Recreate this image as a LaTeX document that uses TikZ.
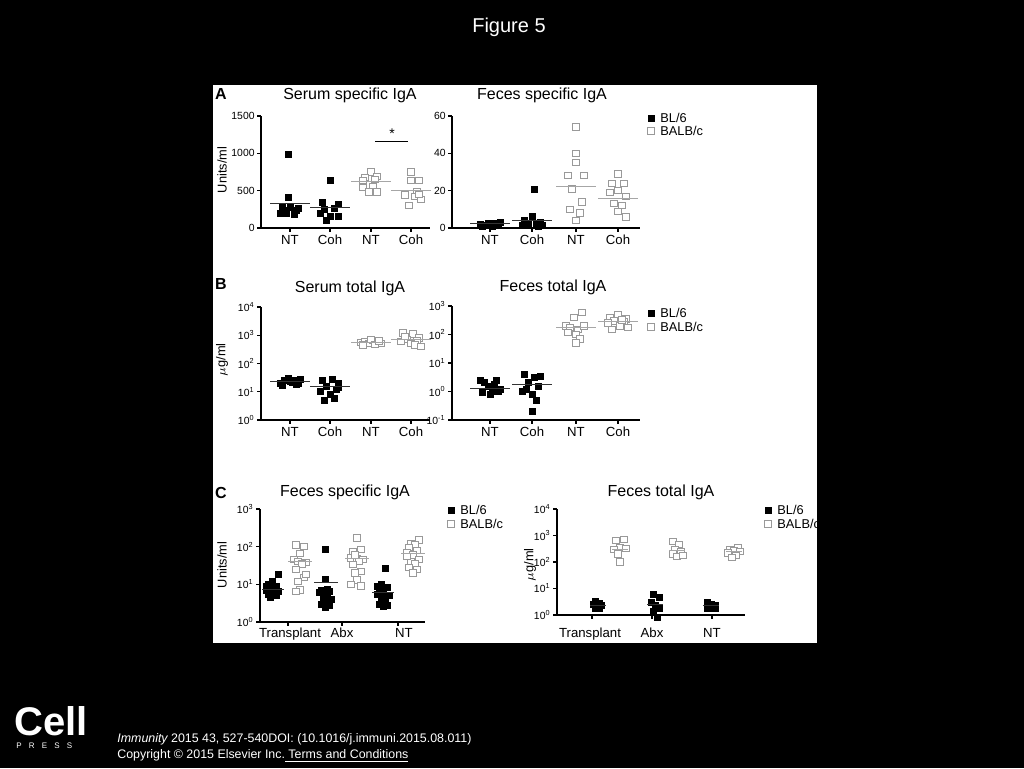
\documentclass[tikz,border=0pt]{standalone}
\usepackage{fontspec}
\setmainfont{Liberation Sans}
\begin{document}
\begin{tikzpicture}[x=0.5pt,y=-0.5pt,
 ax/.style={line width=0.6pt,black},
 bsq/.style={fill=black,draw=none,minimum size=3.5pt,inner sep=0pt},
 wsq/.style={draw=gray!80,fill=white,line width=0.5pt,minimum size=3.2pt,inner sep=0pt},
 bm/.style={line width=0.5pt,black!80},
 wm/.style={line width=0.5pt,gray!70},
 tl/.style={font=\fontsize{5.2}{6}\selectfont,anchor=east,inner sep=0pt},
 cl/.style={font=\fontsize{6.6}{7}\selectfont,anchor=north,inner sep=0pt},
 tt/.style={font=\fontsize{8}{9}\selectfont,inner sep=0pt},
 pl/.style={font=\fontsize{8}{9}\selectfont\bfseries,inner sep=0pt},
 lg/.style={font=\fontsize{6.4}{7}\selectfont,anchor=west,inner sep=0pt}]
\fill[black] (0,0) rectangle (1024,768);
\useasboundingbox (0,0) rectangle (1024,768);
\fill[white] (213,85) rectangle (817,643);
\node[white,font=\fontsize{10}{12}\selectfont] at (509,27) {Figure 5};
% ---------- Panel A ----------
\node[pl] at (221,94) {A};
\node[tt] at (350,95) {Serum specific IgA};
\node[tt] at (542,95) {Feces specific IgA};
\draw[ax] (261,116) -- (261,228) -- (430,228);
\foreach \v/\t in {0/0,500/500,1000/1000,1500/1500}{\draw[ax] (257,{228-\v*0.07467}) -- (261,{228-\v*0.07467}); \node[tl] at (255,{228-\v*0.07467}) {\t};}
\foreach \x/\t in {290/NT,330/Coh,371/NT,411/Coh}{\draw[ax] (\x,228)--(\x,232); \node[cl] at (\x,235) {\t};}
\node[rotate=90,font=\fontsize{6.4}{7}\selectfont] at (222,170) {Units/ml};
\draw[line width=0.5pt] (375,141) -- (408,141);
\node[font=\fontsize{7}{7}\selectfont] at (392,134) {*};
\foreach \d/\v in {-2/990,-2/410,-8/280,0/270,8/260,-10/200,-4/190,4/180,6/230,-6/230} \node[bsq] at ({290+\d},{228-\v*0.07467}) {};
\draw[bm] (270,{228-330*0.07467}) -- (310,{228-330*0.07467});
\foreach \d/\v in {0/640,-8/340,8/310,4/260,-6/250,-10/200,8/150,0/160,-4/100} \node[bsq] at ({330+\d},{228-\v*0.07467}) {};
\draw[bm] (310,{228-270*0.07467}) -- (350,{228-270*0.07467});
\foreach \d/\v in {0/750,-6/680,6/690,-8/640,4/650,-8/540,2/550,6/480,-2/480} \node[wsq] at ({371+\d},{228-\v*0.07467}) {};
\draw[wm] (351,{228-620*0.07467}) -- (391,{228-620*0.07467});
\foreach \d/\v in {0/750,8/640,0/640,6/490,-6/440,4/420,10/380,-2/300,8/450} \node[wsq] at ({411+\d},{228-\v*0.07467}) {};
\draw[wm] (391,{228-500*0.07467}) -- (431,{228-500*0.07467});
% feces specific
\draw[ax] (452,116) -- (452,228) -- (640,228);
\foreach \v in {0,20,40,60}{\draw[ax] (448,{228-\v*1.867}) -- (452,{228-\v*1.867}); \node[tl] at (446,{228-\v*1.867}) {\v};}
\foreach \x/\t in {490/NT,532/Coh,576/NT,618/Coh}{\draw[ax] (\x,228)--(\x,232); \node[cl] at (\x,235) {\t};}
\foreach \d/\v in {-10/2,-6/1.5,-2/2.5,2/1,6/2,10/3,-8/1,0/1.8,4/2.2,8/1.2} \node[bsq] at ({490+\d},{228-\v*1.867}) {};
\draw[bm] (470,{228-2.3*1.867}) -- (510,{228-2.3*1.867});
\foreach \d/\v in {2/20.5,0/6,-8/4,8/3,-4/2,4/2,10/1.5,-10/1.5,6/1} \node[bsq] at ({532+\d},{228-\v*1.867}) {};
\draw[bm] (512,{228-4*1.867}) -- (552,{228-4*1.867});
\foreach \d/\v in {0/54,0/40,0/35,-8/28,8/28,-4/21,6/14,-6/10,4/8,0/4} \node[wsq] at ({576+\d},{228-\v*1.867}) {};
\draw[wm] (556,{228-22*1.867}) -- (596,{228-22*1.867});
\foreach \d/\v in {0/29,-6/24,6/24,0/20,-8/19,8/17,-4/13,4/12,0/9,8/6} \node[wsq] at ({618+\d},{228-\v*1.867}) {};
\draw[wm] (598,{228-16*1.867}) -- (638,{228-16*1.867});
\node[bsq] at (651,118) {}; \node[lg] at (660,118) {BL/6};
\node[wsq] at (651,131) {}; \node[lg] at (660,131) {BALB/c};
% ---------- Panel B ----------
\node[pl] at (221,284) {B};
\node[tt] at (350,288) {Serum total IgA};
\node[tt] at (553,287) {Feces total IgA};
\draw[ax] (261,307) -- (261,420) -- (430,420);
\foreach \e in {0,...,4}{\draw[ax] (257,{420-28.25*\e}) -- (261,{420-28.25*\e}); \node[tl] at (255,{420-28.25*\e}) {10\textsuperscript{\e}};}
\foreach \x/\t in {290/NT,330/Coh,371/NT,411/Coh}{\draw[ax] (\x,420)--(\x,424); \node[cl] at (\x,427) {\t};}
\node[rotate=90,font=\fontsize{6.4}{7}\selectfont] at (222,360) {$\mu$g/ml};
\foreach \d/\v in {-10/20,-6/25,-2/30,2/22,6/18,10/28,-8/17,0/24,4/26,8/20} \node[bsq] at ({290+\d},{420-28.25*log10(\v)}) {};
\draw[bm] (270,{420-28.25*log10(23)}) -- (310,{420-28.25*log10(23)});
\foreach \d/\v in {-8/25,2/28,8/20,-4/15,6/12,-10/10,0/8,4/6,-6/5,8/14} \node[bsq] at ({330+\d},{420-28.25*log10(\v)}) {};
\draw[bm] (310,{420-28.25*log10(15)}) -- (350,{420-28.25*log10(15)});
\foreach \d/\v in {-10/550,-6/600,-2/500,2/650,6/580,10/520,-8/450,0/700,4/480,8/620} \node[wsq] at ({371+\d},{420-28.25*log10(\v)}) {};
\draw[wm] (351,{420-28.25*log10(560)}) -- (391,{420-28.25*log10(560)});
\foreach \d/\v in {-8/1200,2/1100,8/800,-4/700,6/650,-10/600,0/500,4/450,-6/900,10/400} \node[wsq] at ({411+\d},{420-28.25*log10(\v)}) {};
\draw[wm] (391,{420-28.25*log10(700)}) -- (431,{420-28.25*log10(700)});
\draw[ax] (452,306) -- (452,420) -- (640,420);
\foreach \e/\t in {0/-1,1/0,2/1,3/2,4/3}{\draw[ax] (448,{420-28.5*\e}) -- (452,{420-28.5*\e}); \node[tl] at (446,{420-28.5*\e}) {10\textsuperscript{\t}};}
\foreach \x/\t in {490/NT,532/Coh,576/NT,618/Coh}{\draw[ax] (\x,420)--(\x,424); \node[cl] at (\x,427) {\t};}
\foreach \d/\v in {-10/2.5,-6/2,-2/1.5,2/1,6/2.5,10/1.2,-8/0.9,0/0.8,4/1.8,8/1} \node[bsq] at ({490+\d},{420-28.5*(log10(\v)+1)}) {};
\draw[bm] (470,{420-28.5*(log10(1.3)+1)}) -- (510,{420-28.5*(log10(1.3)+1))});
\foreach \d/\v in {-8/4,2/3,8/3.5,-4/2,6/1.5,-10/1,0/0.8,4/0.5,-6/1.2,0/0.2} \node[bsq] at ({532+\d},{420-28.5*(log10(\v)+1)}) {};
\draw[bm] (512,{420-28.5*(log10(1.8)+1)}) -- (552,{420-28.5*(log10(1.8)+1)});
\foreach \d/\v in {6/600,-2/400,-10/200,-6/180,2/150,8/200,-8/120,0/100,4/70,0/50} \node[wsq] at ({576+\d},{420-28.5*(log10(\v)+1)}) {};
\draw[wm] (556,{420-28.5*(log10(180)+1)}) -- (596,{420-28.5*(log10(180)+1)});
\foreach \d/\v in {0/500,-8/400,8/350,-4/300,6/280,-10/250,2/200,10/180,-6/150,4/320} \node[wsq] at ({618+\d},{420-28.5*(log10(\v)+1)}) {};
\draw[wm] (598,{420-28.5*(log10(290)+1)}) -- (638,{420-28.5*(log10(290)+1)});
\node[bsq] at (651,313) {}; \node[lg] at (660,313) {BL/6};
\node[wsq] at (651,327) {}; \node[lg] at (660,327) {BALB/c};
% ---------- Panel C ----------
\node[pl] at (221,493) {C};
\node[tt] at (345,492) {Feces specific IgA};
\node[tt] at (661,492) {Feces total IgA};
\draw[ax] (260,509) -- (260,622) -- (425,622);
\foreach \e in {0,...,3}{\draw[ax] (256,{622-37.7*\e}) -- (260,{622-37.7*\e}); \node[tl] at (254,{622-37.7*\e}) {10\textsuperscript{\e}};}
\foreach \x in {288,342,398}{\draw[ax] (\x,622)--(\x,626);}
\node[cl] at (290,628) {Transplant}; \node[cl] at (342,628) {Abx}; \node[cl] at (404,628) {NT};
\node[rotate=90,font=\fontsize{6.4}{7}\selectfont] at (222,565) {Units/ml};
\foreach \d/\v in {6/18,0/12,-4/10,4/9,-2/8,2/7.5,-6/7,6/6.5,0/6,-4/5.5,4/5,-2/4.6,2/8.5,-6/9} \node[bsq] at ({272+\d},{622-37.7*log10(\v)}) {};
\draw[bm] (262,{622-37.7*log10(7.5)}) -- (284,{622-37.7*log10(7.5)});
\foreach \d/\v in {-4/110,4/100,0/65,-6/45,-2/40,6/38,2/35,-4/25,4/15,-2/12,0/7,-4/6.5,6/18} \node[wsq] at ({300+\d},{622-37.7*log10(\v)}) {};
\draw[wm] (288,{622-37.7*log10(40)}) -- (312,{622-37.7*log10(40)});
\foreach \d/\v in {0/85,0/13.5,-4/7,4/6.5,-6/6,2/5,-2/4.5,6/4,0/3.5,-4/3,4/2.8,0/2.4,-2/5.5,2/7.5} \node[bsq] at ({325+\d},{622-37.7*log10(\v)}) {};
\draw[bm] (314,{622-37.7*log10(11)}) -- (338,{622-37.7*log10(11)});
\foreach \d/\v in {0/170,4/85,-4/75,-6/50,0/48,6/45,2/40,-4/33,4/22,-2/20,0/13,-6/10,4/9,-2/60} \node[wsq] at ({357+\d},{622-37.7*log10(\v)}) {};
\draw[wm] (345,{622-37.7*log10(48)}) -- (369,{622-37.7*log10(48)});
\foreach \d/\v in {2/27,-2/10,4/8,-4/7,0/6.5,-6/5.5,6/5,0/4.5,-2/4,2/3.5,-4/3,4/2.7,0/2.6,-6/8.5} \node[bsq] at ({383+\d},{622-37.7*log10(\v)}) {};
\draw[bm] (372,{622-37.7*log10(6)}) -- (394,{622-37.7*log10(6)});
\foreach \d/\v in {6/150,-2/120,2/110,-4/95,4/80,-6/70,0/60,6/45,-2/40,2/35,-4/28,4/25,0/20,-6/55} \node[wsq] at ({413+\d},{622-37.7*log10(\v)}) {};
\draw[wm] (401,{622-37.7*log10(65)}) -- (425,{622-37.7*log10(65)});
\node[bsq] at (451,510) {}; \node[lg] at (460,510) {BL/6};
\node[wsq] at (451,524) {}; \node[lg] at (460,524) {BALB/c};
% right C
\draw[ax] (557,509) -- (557,615) -- (745,615);
\foreach \e in {0,...,4}{\draw[ax] (553,{615-26.5*\e}) -- (557,{615-26.5*\e}); \node[tl] at (551,{615-26.5*\e}) {10\textsuperscript{\e}};}
\foreach \x in {592,652,712}{\draw[ax] (\x,615)--(\x,619);}
\node[cl] at (590,628) {Transplant}; \node[cl] at (652,628) {Abx}; \node[cl] at (712,628) {NT};
\node[rotate=90,font=\fontsize{6.4}{7}\selectfont] at (530,565) {$\mu$g/ml};
\foreach \d/\v in {-2/3.2,2/2.8,-4/2.4,4/2.2,0/2,-2/1.8,2/1.7} \node[bsq] at ({597+\d},{615-26.5*log10(\v)}) {};
\draw[bm] (590,{615-26.5*log10(2.2)}) -- (606,{615-26.5*log10(2.2)});
\foreach \d/\v in {4/700,-4/650,0/350,-6/300,6/320,-2/200,0/100} \node[wsq] at ({620+\d},{615-26.5*log10(\v)}) {};
\draw[wm] (612,{615-26.5*log10(300)}) -- (628,{615-26.5*log10(300)});
\foreach \d/\v in {-2/6,4/4.5,-4/3,0/2.2,4/1.8,-2/1.4,2/0.8} \node[bsq] at ({655+\d},{615-26.5*log10(\v)}) {};
\draw[bm] (647,{615-26.5*log10(2.4)}) -- (663,{615-26.5*log10(2.4)});
\foreach \d/\v in {-4/600,2/450,-2/300,4/250,-4/200,0/160,6/180} \node[wsq] at ({677+\d},{615-26.5*log10(\v)}) {};
\draw[wm] (669,{615-26.5*log10(270)}) -- (685,{615-26.5*log10(270)});
\foreach \d/\v in {-4/3,0/2.6,4/2.2,-2/1.9,2/1.8,-4/1.7,4/1.8} \node[bsq] at ({711+\d},{615-26.5*log10(\v)}) {};
\draw[bm] (703,{615-26.5*log10(2.2)}) -- (719,{615-26.5*log10(2.2)});
\foreach \d/\v in {4/350,-4/300,0/270,6/250,-6/220,2/180,-2/150} \node[wsq] at ({734+\d},{615-26.5*log10(\v)}) {};
\draw[wm] (726,{615-26.5*log10(260)}) -- (742,{615-26.5*log10(260)});
\node[bsq] at (768,510) {}; \node[lg] at (777,510) {BL/6};
\node[wsq] at (768,524) {}; \node[lg] at (777,524) {BALB/c};
% ---------- footer ----------
\node[white,font=\fontsize{20}{20}\selectfont\bfseries,inner sep=0pt,anchor=south west] at (14,736) {Cell};
\node[white,font=\fontsize{4}{5}\selectfont,inner sep=0pt,anchor=west] at (16,746) {P\hspace{3.6pt}R\hspace{3.6pt}E\hspace{3.6pt}S\hspace{3.6pt}S};
\node[white,font=\fontsize{6.2}{7}\selectfont\itshape,inner sep=0pt,anchor=west] at (117,739) {Immunity\upshape\ 2015 43, 527-540DOI: (10.1016/j.immuni.2015.08.011)};
\node[white,font=\fontsize{6.2}{7}\selectfont,inner sep=0pt,anchor=west] at (117,756) {Copyright © 2015 Elsevier Inc.\underline{ Terms and Conditions}};
\end{tikzpicture}
\end{document}
